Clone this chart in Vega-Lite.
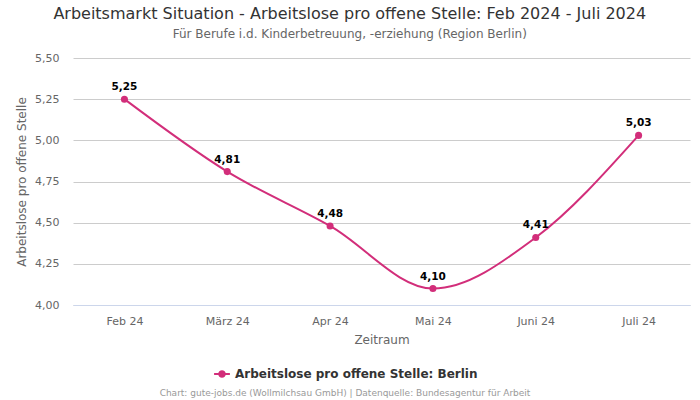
{
  "$schema": "https://vega.github.io/schema/vega-lite/v6.json",
  "autosize": {"type": "none"},
  "width": 617,
  "height": 247,
  "padding": {"top": 58, "left": 73, "right": 10, "bottom": 95},
  "background": "white",
  "config": {
    "font": "DejaVu Sans",
    "view": {"stroke": null},
    "locale": {"number": {"decimal": ",", "thousands": ".", "grouping": [3], "currency": ["", " €"]}}
  },
  "title": {
    "text": "Arbeitsmarkt Situation - Arbeitslose pro offene Stelle: Feb 2024 - Juli 2024",
    "subtitle": "Für Berufe i.d. Kinderbetreuung, -erziehung (Region Berlin)",
    "fontSize": 16,
    "fontWeight": "normal",
    "color": "#333333",
    "subtitleFontSize": 12,
    "subtitleColor": "#666666",
    "subtitlePadding": 7,
    "anchor": "middle",
    "frame": "bounds",
    "dx": -3,
    "offset": 12
  },
  "data": {
    "values": [
      {"monat": "Feb 24", "wert": 5.25, "serie": "Arbeitslose pro offene Stelle: Berlin"},
      {"monat": "März 24", "wert": 4.81, "serie": "Arbeitslose pro offene Stelle: Berlin"},
      {"monat": "Apr 24", "wert": 4.48, "serie": "Arbeitslose pro offene Stelle: Berlin"},
      {"monat": "Mai 24", "wert": 4.10, "serie": "Arbeitslose pro offene Stelle: Berlin"},
      {"monat": "Juni 24", "wert": 4.41, "serie": "Arbeitslose pro offene Stelle: Berlin"},
      {"monat": "Juli 24", "wert": 5.03, "serie": "Arbeitslose pro offene Stelle: Berlin"}
    ]
  },
  "encoding": {
    "x": {
      "field": "monat", "type": "ordinal", "sort": null,
      "scale": {"type": "point", "padding": 0.5},
      "axis": {
        "title": "Zeitraum", "labelAngle": 0, "labelFontSize": 11, "labelColor": "#666666",
        "titleFontSize": 12, "titleColor": "#666666", "titleFontWeight": "normal", "titlePadding": 8,
        "domainColor": "#ccd6eb", "ticks": false, "labelPadding": 10, "grid": false
      }
    },
    "y": {
      "field": "wert", "type": "quantitative",
      "scale": {"domain": [4, 5.5], "nice": false, "zero": false},
      "axis": {
        "title": "Arbeitslose pro offene Stelle", "format": ".2f", "values": [4, 4.25, 4.5, 4.75, 5, 5.25, 5.5],
        "labelFontSize": 11, "labelColor": "#666666", "titleFontSize": 12, "titleColor": "#666666",
        "titleFontWeight": "normal", "domain": false, "ticks": false, "gridColor": "#cccccc",
        "labelPadding": 14, "titlePadding": 6
      }
    },
    "color": {
      "field": "serie", "type": "nominal",
      "scale": {"range": ["#d22e7a"]},
      "legend": {
        "orient": "none", "legendX": 87, "legendY": 307, "direction": "horizontal",
        "title": "Chart: gute-jobs.de (Wollmilchsau GmbH) | Datenquelle: Bundesagentur für Arbeit",
        "titleOrient": "bottom", "titleFontSize": 9, "titleColor": "#999999", "titleFontWeight": "normal",
        "titleAnchor": "middle", "titlePadding": 8, "titleLimit": 700, "labelLimit": 600,
        "labelFontSize": 12, "labelFontWeight": "bold", "labelColor": "#333333",
        "symbolType": "M-1,0H1M-0.35,0A0.35,0.35 0 1,1 0.35,0A0.35,0.35 0 1,1 -0.35,0Z",
        "symbolSize": 250, "symbolStrokeWidth": 2, "symbolFillColor": "#d22e7a",
        "padding": 0
      }
    }
  },
  "layer": [
    {"mark": {"type": "line", "interpolate": "monotone", "strokeWidth": 2}},
    {"mark": {"type": "point", "filled": true, "size": 50, "opacity": 1}},
    {
      "mark": {"type": "text", "dy": -12, "fontSize": 10.5, "fontWeight": "bold", "color": "black"},
      "encoding": {"text": {"field": "wert", "type": "quantitative", "format": ".2f"}, "color": {"value": "black"}}
    }
  ]
}
